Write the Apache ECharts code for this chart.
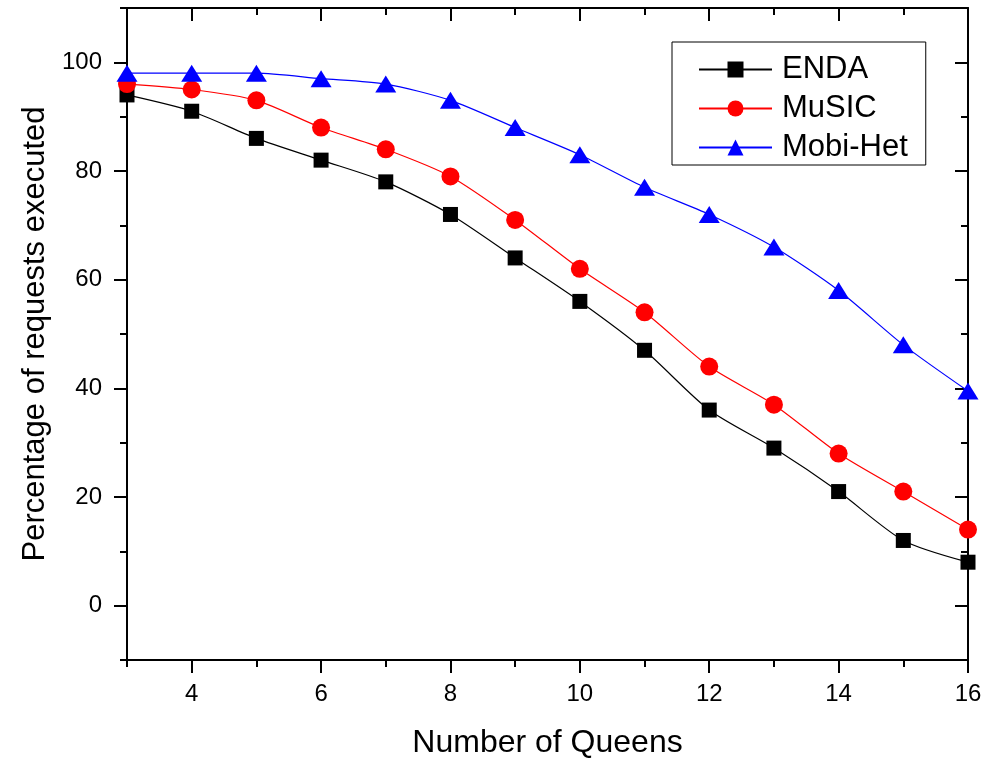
<!DOCTYPE html>
<html><head><meta charset="utf-8">
<script src="https://cdn.jsdelivr.net/npm/echarts@6/dist/echarts.min.js"></script>
<style>html,body{margin:0;padding:0;background:#fff}#c{width:987px;height:758px}</style>
</head><body><div id="c"></div>
<script>
const queens = [3,4,5,6,7,8,9,10,11,12,13,14,15,16];
const enda = [94,91,86,82,78,72,64,56,47,36,29,21,12,8];
const music = [96,95,93,88,84,79,71,62,54,44,37,28,21,14];
const mobiHet = [98,98,98,97,96,93,88,83,77,72,66,58,48,39.5];
const xLabels = [4,6,8,10,12,14,16];
const yLabels = [0,20,40,60,80,100];

const font = 'Liberation Sans, Arial, sans-serif';
const pair = (ys) => queens.map((q,i)=>[q, ys[i]]);
const chart = echarts.init(document.getElementById('c'));
const tickStyle = {color:'#000', width:2};
function xAx(pos, major, inside, extra) {
  return Object.assign({type:'value', min:3, max:16, interval:1, position:pos,
    axisLine:{show:major, onZero:false, lineStyle:{color:'#000', width:2}},
    axisTick:major ? {show:true, inside:inside, length:13, lineStyle:tickStyle, customValues:xLabels}
                   : {show:true, inside:inside, length:7, lineStyle:tickStyle},
    axisLabel:{show:false}, splitLine:{show:false}}, extra||{});
}
function yAx(pos, major, inside, extra) {
  return Object.assign({type:'value', min:-10, max:110, interval:10, position:pos,
    axisLine:{show:major, onZero:false, lineStyle:{color:'#000', width:2}},
    axisTick:major ? {show:true, inside:inside, length:13, lineStyle:tickStyle, customValues:yLabels}
                   : {show:true, inside:inside, length:7, lineStyle:tickStyle},
    axisLabel:{show:false}, splitLine:{show:false}}, extra||{});
}
chart.setOption({
  animation:false,
  backgroundColor:'#fff',
  grid:{left:127, right:19, top:8, bottom:98, containLabel:false, outerBoundsMode:'none'},
  legend:{
    left:672, top:42, orient:'vertical', itemWidth:73, itemHeight:20, itemGap:8,
    padding:[12,18,2,26], borderColor:'#000', borderWidth:1,
    textStyle:{fontFamily:font, fontSize:31, color:'#000', padding:[0,0,0,5]},
    data:['ENDA','MuSIC','Mobi-Het']
  },
  xAxis:[
    xAx('bottom', true, false, {
      name:'Number of Queens', nameLocation:'middle', nameGap:67,
      nameTextStyle:{fontFamily:font, fontSize:32, color:'#000'},
      axisLabel:{show:true, customValues:xLabels, fontFamily:font, fontSize:24, color:'#000', margin:22}}),
    xAx('bottom', false, false),
    xAx('top', true, true),
    xAx('top', false, true)
  ],
  yAxis:[
    yAx('left', true, false, {
      name:'Percentage of requests executed', nameLocation:'middle', nameGap:74,
      nameTextStyle:{fontFamily:font, fontSize:31, color:'#000'},
      axisLabel:{show:true, customValues:yLabels, fontFamily:font, fontSize:24, color:'#000', margin:25}}),
    yAx('left', false, false),
    yAx('right', true, true),
    yAx('right', false, true)
  ],
  series:[
    {name:'ENDA', type:'line', data:pair(enda), smooth:0.25, symbol:'rect', symbolSize:15,
     itemStyle:{color:'#000'}, lineStyle:{color:'#000', width:1.2}, clip:false, z:3},
    {name:'MuSIC', type:'line', data:pair(music), smooth:0.25, symbol:'circle', symbolSize:18,
     itemStyle:{color:'#ff0000'}, lineStyle:{color:'#ff0000', width:1.2}, clip:false, z:4},
    {name:'Mobi-Het', type:'line', data:pair(mobiHet), smooth:0.25, symbol:'triangle', symbolSize:[21,17],
     itemStyle:{color:'#0000ff'}, lineStyle:{color:'#0000ff', width:1.2}, clip:false, z:5}
  ]
});
</script></body></html>
